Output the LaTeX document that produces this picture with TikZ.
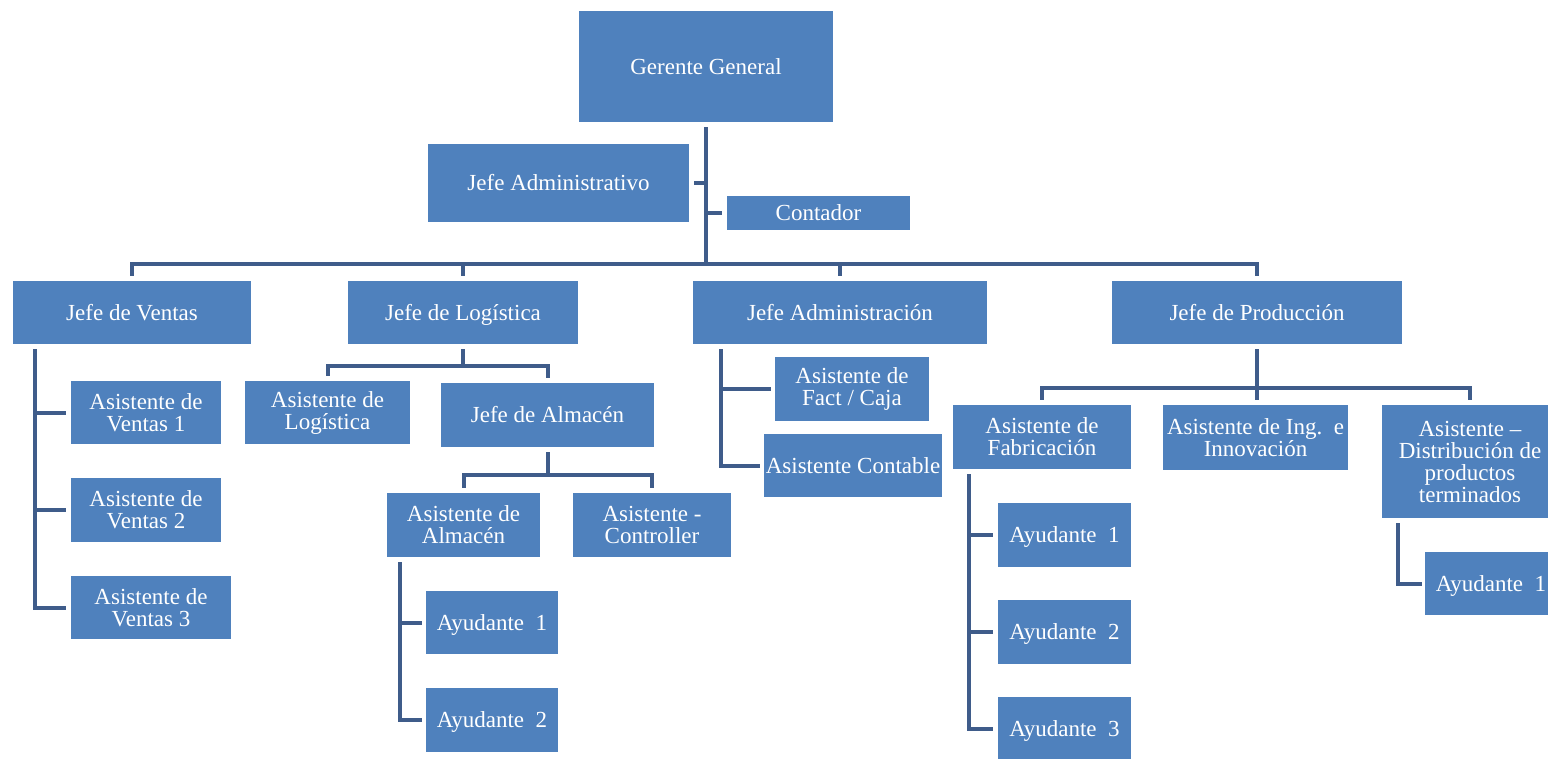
\documentclass[tikz,border=0pt]{standalone}
\usepackage{fontspec}
\setmainfont{Liberation Serif}
\definecolor{boxblue}{RGB}{79,129,189}
\definecolor{linecol}{RGB}{63,92,138}
\begin{document}
\begin{tikzpicture}[x=1pt,y=-1pt,
  box/.style={fill=boxblue,draw=none,text=white,align=center,inner sep=0pt,
    font=\fontsize{23}{22}\selectfont},
  oneline/.style={text height=19pt,text depth=4pt},
  conn/.style={draw=linecol,line width=4pt,line join=miter}]
\useasboundingbox (0,0) rectangle (1548,758);
\fill[white] (0,0) rectangle (1548,758);
% nodes
\node[box,oneline,minimum width=254pt,minimum height=111pt] (GG) at (706,66.5) {Gerente General};
\node[box,oneline,minimum width=261pt,minimum height=78pt] (JA) at (558.5,183) {Jefe Administrativo};
\node[box,oneline,minimum width=183pt,minimum height=34pt] (CON) at (818.5,213) {Contador};
\node[box,oneline,minimum width=238pt,minimum height=63pt] (JV) at (132,312.5) {Jefe de Ventas};
\node[box,oneline,minimum width=230pt,minimum height=63pt] (JL) at (463,312.5) {Jefe de Logística};
\node[box,oneline,minimum width=294pt,minimum height=63pt] (JAD) at (840,312.5) {Jefe Administración};
\node[box,oneline,minimum width=290pt,minimum height=63pt] (JP) at (1257,312.5) {Jefe de Producción};
\node[box,minimum width=150pt,minimum height=63pt] (AV1) at (146,412.5) {Asistente de\\Ventas 1};
\node[box,minimum width=150pt,minimum height=64pt] (AV2) at (146,510) {Asistente de\\Ventas 2};
\node[box,minimum width=160pt,minimum height=63pt] (AV3) at (151,607.5) {Asistente de\\Ventas 3};
\node[box,minimum width=165pt,minimum height=63pt] (AL) at (327.5,412.5) {Asistente de\\Logística};
\node[box,oneline,minimum width=213pt,minimum height=64pt] (JALM) at (547.5,415) {Jefe de Almacén};
\node[box,minimum width=153pt,minimum height=64pt] (AALM) at (463.5,525) {Asistente de\\Almacén};
\node[box,minimum width=158pt,minimum height=64pt] (ACTRL) at (652,525) {Asistente -\\Controller};
\node[box,oneline,minimum width=132pt,minimum height=63pt] (AY1a) at (492,622.5) {Ayudante~~1};
\node[box,oneline,minimum width=132pt,minimum height=64pt] (AY2a) at (492,720) {Ayudante~~2};
\node[box,minimum width=154pt,minimum height=64pt] (AFC) at (852,389) {Asistente de\\Fact / Caja};
\node[box,oneline,minimum width=178pt,minimum height=63pt] (ACONT) at (853,465.5) {Asistente Contable};
\node[box,minimum width=178pt,minimum height=64pt] (AFAB) at (1042,437) {Asistente de\\Fabricación};
\node[box,minimum width=185pt,minimum height=65pt] (AING) at (1255.5,437.5) {Asistente de Ing.~~e\\Innovación};
\node[box,minimum width=176pt,minimum height=113pt] (ADIST) at (1470,461.5) {Asistente –\\Distribución de\\productos\\terminados};
\node[box,oneline,minimum width=132pt,minimum height=63pt] (AY1p) at (1491,583.5) {Ayudante~~1};
\node[box,oneline,minimum width=133pt,minimum height=64pt] (AY1f) at (1064.5,535) {Ayudante~~1};
\node[box,oneline,minimum width=133pt,minimum height=64pt] (AY2f) at (1064.5,632) {Ayudante~~2};
\node[box,oneline,minimum width=133pt,minimum height=63pt] (AY3f) at (1064.5,728.5) {Ayudante~~3};
% top trunk and bus
\coordinate (busc) at (707,264);
\draw[conn] ([yshift=-5pt]GG.south) -- (GG.south |- busc);
\draw[conn] ([xshift=5pt]JA.east) -- (JA.east -| busc);
\draw[conn] ([xshift=-5pt]CON.west) -- (CON.west -| busc);
\draw[conn] ([yshift=5pt]JV.north) -- (JV.north |- busc) -| ([yshift=5pt]JP.north);
\draw[conn] ([yshift=5pt]JL.north) -- (JL.north |- busc);
\draw[conn] ([yshift=5pt]JAD.north) -- (JAD.north |- busc);
% ventas
\draw[conn] ([xshift=22pt,yshift=-5pt]JV.south west) |- ([xshift=-5pt]AV3.west);
\draw[conn] ([xshift=22pt]JV.south west |- AV1.west) -- ([xshift=-5pt]AV1.west);
\draw[conn] ([xshift=22pt]JV.south west |- AV2.west) -- ([xshift=-5pt]AV2.west);
% logistica
\draw[conn] ([yshift=-5pt]JL.south) -- ++(0,17) coordinate (lh);
\draw[conn] ([yshift=5pt]AL.north) |- (lh) -| ([yshift=5pt]JALM.north);
% almacen
\draw[conn] ([yshift=-5pt]JALM.south) -- ++(0,23) coordinate (ah);
\draw[conn] ([yshift=5pt]AALM.north) |- (ah) -| ([yshift=5pt]ACTRL.north);
\draw[conn] ([xshift=13pt,yshift=-5pt]AALM.south west) |- ([xshift=-4pt]AY2a.west);
\draw[conn] ([xshift=13pt]AALM.south west |- AY1a.west) -- ([xshift=-4pt]AY1a.west);
% administracion
\draw[conn] ([xshift=28pt,yshift=-5pt]JAD.south west) |- ([xshift=-4pt]ACONT.west);
\draw[conn] ([xshift=28pt]JAD.south west |- AFC.west) -- ([xshift=-4pt]AFC.west);
% produccion
\draw[conn] ([yshift=-5pt]JP.south) -- ++(0,39) coordinate (ph);
\draw[conn] ([yshift=5pt]AFAB.north) |- (ph) -| ([yshift=5pt]ADIST.north);
\draw[conn] (ph) -- ([yshift=5pt]ph |- AING.north);
% fabricacion
\draw[conn] ([xshift=16pt,yshift=-5pt]AFAB.south west) |- ([xshift=-5pt]AY3f.west);
\draw[conn] ([xshift=16pt]AFAB.south west |- AY1f.west) -- ([xshift=-5pt]AY1f.west);
\draw[conn] ([xshift=16pt]AFAB.south west |- AY2f.west) -- ([xshift=-5pt]AY2f.west);
% distribucion
\draw[conn] ([xshift=16pt,yshift=-5pt]ADIST.south west) |- ([xshift=-3pt]AY1p.west);
\end{tikzpicture}
\end{document}
